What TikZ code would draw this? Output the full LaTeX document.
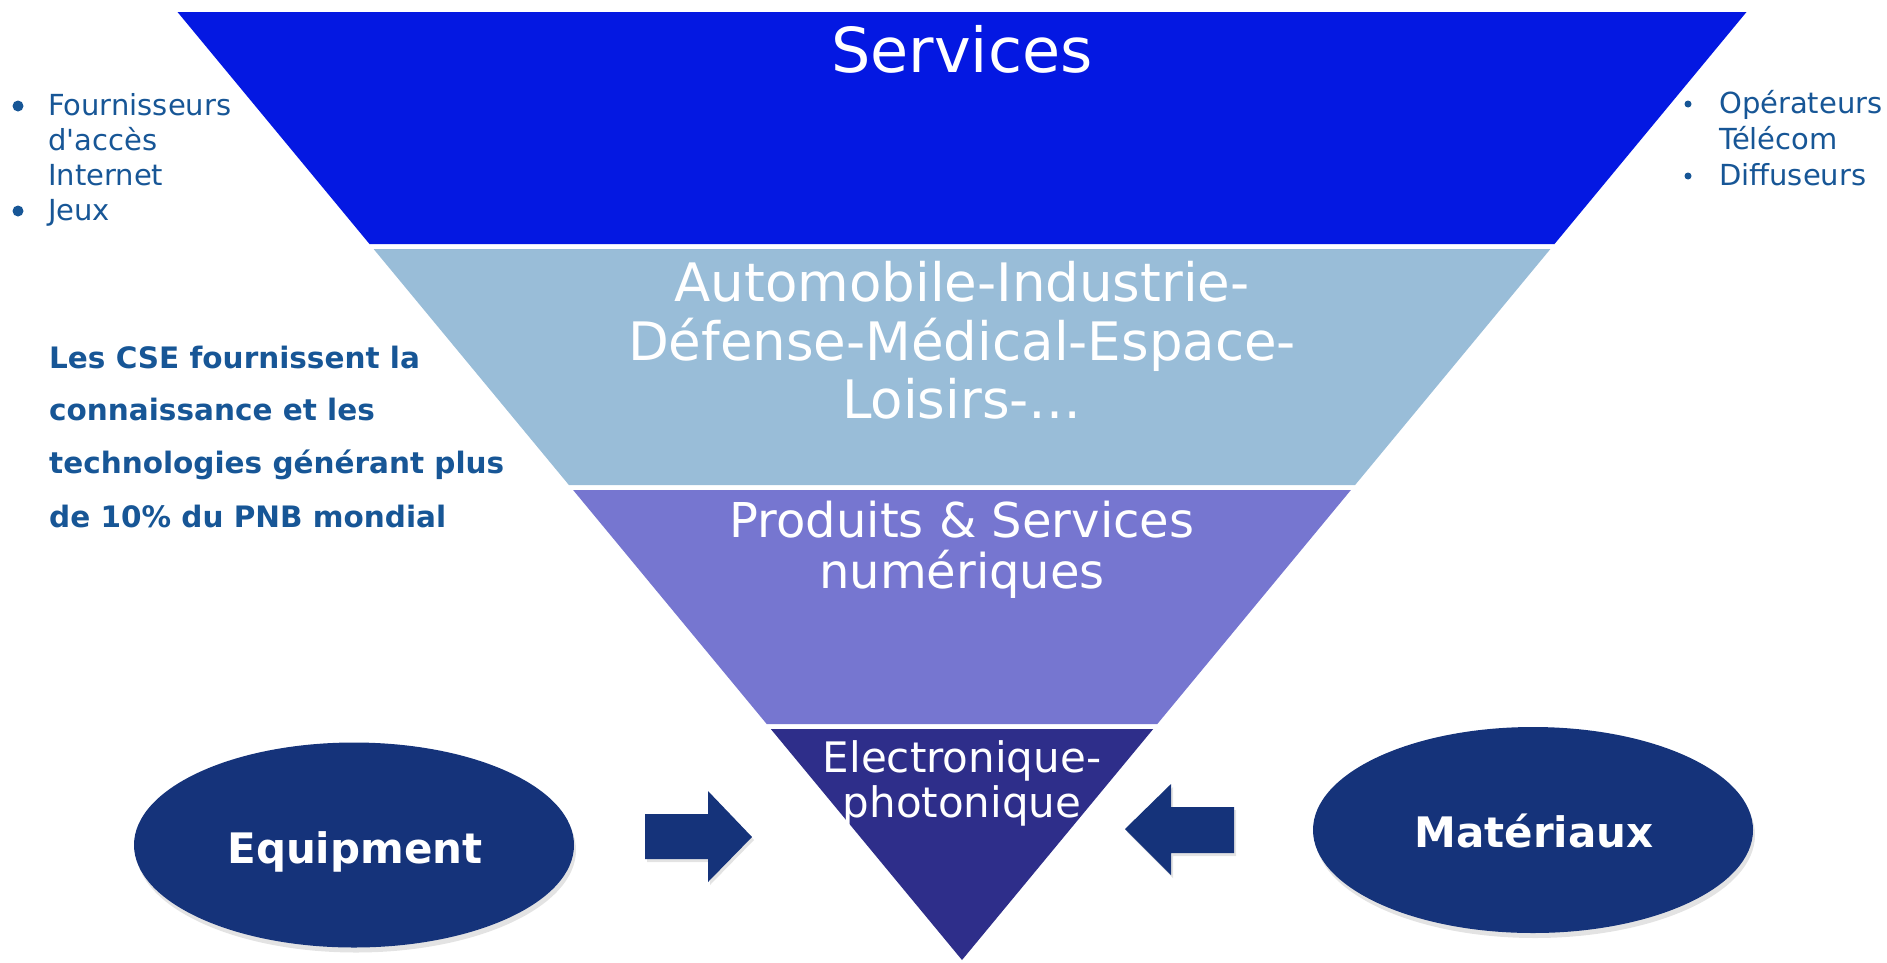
\documentclass[tikz,border=0pt]{standalone}
\usepackage{fontspec}
\setmainfont{DejaVu Sans}
\usetikzlibrary{shapes.geometric,shadows}
\definecolor{bandA}{RGB}{4,24,226}
\definecolor{bandB}{RGB}{153,189,216}
\definecolor{bandC}{RGB}{118,118,208}
\definecolor{bandD}{RGB}{46,46,138}
\definecolor{navy}{RGB}{21,51,122}
\definecolor{txtblue}{RGB}{23,86,150}
\newcommand\fsz[2]{\fontsize{#1}{#2}\selectfont}
\begin{document}
\begin{tikzpicture}[x=1pt,y=-1pt,
  bandtext/.style={text=white, anchor=base, inner sep=0pt},
  listtext/.style={text=txtblue, anchor=base west, inner sep=0pt, font=\fsz{29}{35}},
  boldtext/.style={text=txtblue, anchor=base west, inner sep=0pt, font=\fsz{29.5}{35}\bfseries},
  blob/.style={ellipse, fill=navy, draw=none, minimum width=440pt, minimum height=205pt, inner sep=0pt,
     drop shadow={shadow xshift=2pt, shadow yshift=-5pt, opacity=0.22}},
  blobtext/.style={text=white, anchor=base, inner sep=0pt, font=\fsz{42}{50}\bfseries},
  bigarrow/.style={fill=navy, drop shadow={shadow xshift=2pt, shadow yshift=-3pt, opacity=0.22}},
  dot/.style={circle, fill=txtblue, inner sep=0pt}]
\useasboundingbox (0,0) rectangle (1887,962);
% funnel bands
\fill[bandA] (177.5,12) -- (1746.5,12) -- (1554.5,244) -- (369.5,244) -- cycle;
\fill[bandB] (373.6,249) -- (1550.4,249) -- (1355.1,485) -- (568.9,485) -- cycle;
\fill[bandC] (573.1,490) -- (1350.9,490) -- (1157.3,724) -- (766.7,724) -- cycle;
\fill[bandD] (770.8,729) -- (1153.2,729) -- (962,960) -- cycle;
% band texts
\node[bandtext, font=\fsz{62}{70}] (services) at (962,72) {Services};
\node[bandtext, font=\fsz{53}{60}] (auto1) at (962,301) {Automobile-Industrie-};
\node[bandtext, font=\fsz{53}{60}] (auto2) at (962,360) {Défense-Médical-Espace-};
\node[bandtext, font=\fsz{53}{60}] (auto3) at (962,418) {Loisirs-…};
\node[bandtext, font=\fsz{48}{54}] (prod1) at (962,537) {Produits \& Services};
\node[bandtext, font=\fsz{48}{54}] (prod2) at (962,588) {numériques};
\node[bandtext, font=\fsz{42}{48}] (elec1) at (962,772) {Electronique-};
\node[bandtext, font=\fsz{42}{48}] (elec2) at (962,817) {photonique};
% left list
\node[dot, minimum size=11pt] (b1) at (18,106) {};
\node[listtext] (l1) at (48,115) {Fournisseurs};
\node[listtext] (l2) at (48,150) {d\textquotesingle accès};
\node[listtext] (l3) at (48,185) {Internet};
\node[dot, minimum size=11pt] (b2) at (18,211) {};
\node[listtext] (l4) at (48,220) {Jeux};
% right list
\node[dot, minimum size=7pt] (b3) at (1688,104) {};
\node[listtext] (r1) at (1719,113) {Opérateurs};
\node[listtext] (r2) at (1719,149) {Télécom};
\node[dot, minimum size=7pt] (b4) at (1688,176) {};
\node[listtext] (r3) at (1719,185) {Diffuseurs};
% bold paragraph
\node[boldtext] (p1) at (49,368) {Les CSE fournissent la};
\node[boldtext] (p2) at (49,420) {connaissance et les};
\node[boldtext] (p3) at (49,473) {technologies générant plus};
\node[boldtext] (p4) at (49,527) {de 10\% du PNB mondial};
% ellipses
\node[blob] (equip) at (354,845) {};
\node[blobtext] (equiplbl) at (355,863) {Equipment};
\node[blob, minimum height=206pt] (mat) at (1533,830) {};
\node[blobtext] (matlbl) at (1534,847) {Matériaux};
% block arrows
\fill[bigarrow] (645,814) -- (708,814) -- (708,791) -- (752,837) -- (708,882) -- (708,859) -- (645,859) -- cycle;
\fill[bigarrow] (1234,807) -- (1171,807) -- (1171,784) -- (1125,829) -- (1171,875) -- (1171,853) -- (1234,853) -- cycle;
\end{tikzpicture}
\end{document}
